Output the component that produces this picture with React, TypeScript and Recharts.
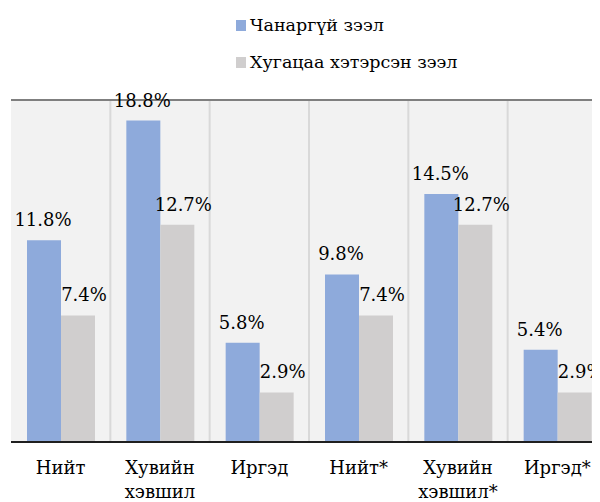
import { BarChart, Bar, XAxis, YAxis, CartesianGrid, LabelList } from "recharts"

const categories = ["Нийт", "Хувийн хэвшил", "Иргэд", "Нийт*", "Хувийн хэвшил*", "Иргэд*"]
const nonPerforming = [11.8, 18.8, 5.8, 9.8, 14.5, 5.4]
const overdue = [7.4, 12.7, 2.9, 7.4, 12.7, 2.9]
const seriesNames = ["Чанаргүй зээл", "Хугацаа хэтэрсэн зээл"]

const BLUE = "#8eaadb"
const GRAY = "#d0cece"
const FONT = "'DejaVu Serif', serif"

const data = categories.map((name, i) => ({
  name,
  a: nonPerforming[i],
  b: overdue[i],
}))

const CategoryTick = (props: any) => {
  const { x, y, payload } = props
  const words = String(payload.value).split(" ")
  return (
    <text x={x} y={y} textAnchor="middle" style={{ fontFamily: FONT }} fontSize={18} fill="#000">
      {words.map((w: string, i: number) => (
        <tspan key={i} x={x} dy={i === 0 ? 24 : 24}>{w}</tspan>
      ))}
    </text>
  )
}

const makeLabel = (dx: number) => (props: any) => {
  const { x, y, width, value } = props
  return (
    <text x={x + width / 2 + dx} y={y - 14} textAnchor="middle" style={{ fontFamily: FONT }} fontSize={18} fill="#000">
      {value.toFixed(1)}%
    </text>
  )
}

export default function App() {
  return (
    <div style={{ position: "relative", width: 592, height: 494, overflow: "hidden", fontFamily: FONT }}>
      <div style={{ position: "absolute", top: 5, left: 228, fontSize: 17.5, color: "#000", lineHeight: "24px", zIndex: 1 }}>
        {seriesNames.map((s, i) => (
          <div key={s} style={{ display: "flex", alignItems: "center", marginBottom: i === 0 ? 13 : 0 }}>
            <span style={{ display: "inline-block", width: 10, height: 11, background: i === 0 ? BLUE : GRAY, marginRight: 4 }} />
            {s}
          </div>
        ))}
      </div>
      <BarChart
        width={620}
        height={494}
        data={data}
        margin={{ top: 92, right: 21, left: 3, bottom: 0 }}
        barCategoryGap={16}
        barGap={0}
      >
        <CartesianGrid
          fill="#f2f2f2"
          stroke="#d9d9d9"
          strokeWidth={2}
          horizontal={false}
          verticalCoordinatesGenerator={({ offset }: any) =>
            categories.slice(1).map((_, i) => offset.left + ((i + 1) * offset.width) / categories.length)
          }
        />
        <CartesianGrid
          stroke="#7f7f7f"
          strokeWidth={2}
          vertical={false}
          horizontalCoordinatesGenerator={({ offset }: any) => [offset.top]}
        />
        <XAxis
          dataKey="name"
          axisLine={{ stroke: "#1f1f1f", strokeWidth: 2 }}
          tickLine={false}
          interval={0}
          height={60}
          tick={<CategoryTick />}
        />
        <YAxis
          domain={[0, 20]}
          width={0}
          tick={false}
          tickLine={false}
          axisLine={{ stroke: "#7f7f7f", strokeWidth: 2 }}
        />
        <Bar dataKey="a" name={seriesNames[0]} fill={BLUE} isAnimationActive={false}>
          <LabelList dataKey="a" content={makeLabel(-1)} />
        </Bar>
        <Bar dataKey="b" name={seriesNames[1]} fill={GRAY} isAnimationActive={false}>
          <LabelList dataKey="b" content={makeLabel(6)} />
        </Bar>
      </BarChart>
    </div>
  )
}
